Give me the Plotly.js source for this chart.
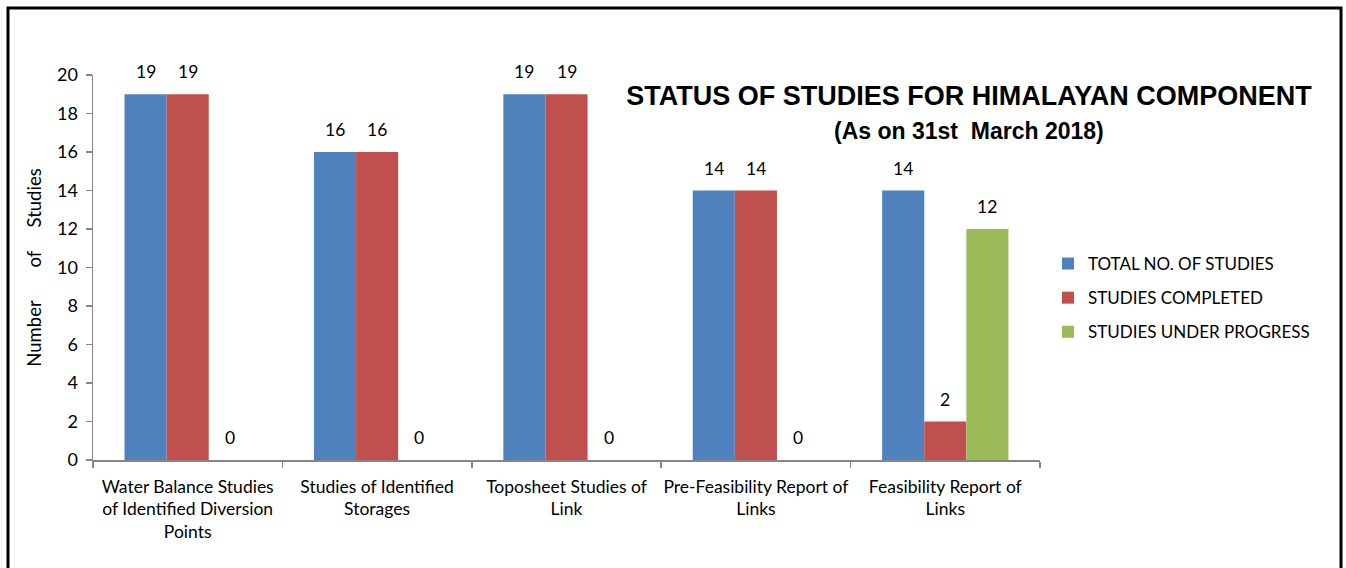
<!DOCTYPE html>
<html>
<head>
<meta charset="utf-8">
<script src="https://cdn.plot.ly/plotly-3.0.1.min.js"></script>
<style>html,body{margin:0;padding:0;background:#fff;}#chart{width:1346px;height:568px;}</style>
</head>
<body>
<div id="chart"></div>
<script>
const categories = [
  "Water Balance Studies<br>of Identified Diversion<br>Points",
  "Studies of Identified<br>Storages",
  "Toposheet Studies of<br>Link",
  "Pre-Feasibility Report of<br>Links",
  "Feasibility Report of<br>Links"
];
const seriesNames = ["TOTAL NO. OF STUDIES", "STUDIES COMPLETED", "STUDIES UNDER PROGRESS"];
const totalStudies = [19, 16, 19, 14, 14];
const studiesCompleted = [19, 16, 19, 14, 2];
const studiesUnderProgress = [0, 0, 0, 0, 12];
const yTicks = [0, 2, 4, 6, 8, 10, 12, 14, 16, 18, 20];

const colors = ["#4F81BD", "#C0504D", "#9BBB59"];
const FONT = "Lato, 'Noto Sans', sans-serif";
const TITLE_FONT = "'Liberation Sans', Arial, sans-serif";
const series = [totalStudies, studiesCompleted, studiesUnderProgress];

const traces = series.map((vals, i) => ({
  type: "bar",
  name: seriesNames[i],
  legendgroup: "g" + i,
  x: categories,
  y: vals,
  marker: {color: colors[i]}
}));

// data labels (values from the series arrays), shifted to each bar of the group
const groupOffsets = [-42.1, 0, 42.1];
const labelAnnotations = [];
series.forEach((vals, i) => {
  vals.forEach((v, j) => {
    labelAnnotations.push({
      x: categories[j], y: v, xref: "x", yref: "y",
      text: String(v), showarrow: false,
      xanchor: "center", yanchor: "bottom",
      xshift: groupOffsets[i], yshift: 10,
      font: {family: FONT, size: 17.5, color: "#000"}
    });
  });
});

const layout = {
  width: 1346, height: 568,
  margin: {l: 93, r: 306, t: 75, b: 108, autoexpand: false},
  paper_bgcolor: "#fff", plot_bgcolor: "#fff",
  barmode: "group",
  bargap: 0.333, bargroupgap: 0,
  font: {family: FONT, size: 17, color: "#000"},
  title: {
    text: "<b>STATUS OF STUDIES FOR HIMALAYAN COMPONENT</b>",
    font: {family: TITLE_FONT, size: 27, color: "#000"},
    xref: "container", x: 969/1346, xanchor: "center",
    yref: "container", y: 1 - 96/568, yanchor: "middle"
  },
  annotations: [{
    text: "<b>(As on 31st&nbsp; March 2018)</b>",
    font: {family: TITLE_FONT, size: 23, color: "#000"},
    xref: "paper", yref: "paper",
    x: (969-93)/947, y: (460-131)/385,
    xanchor: "center", yanchor: "middle",
    showarrow: false
  }].concat(labelAnnotations),
  xaxis: {
    type: "category",
    automargin: false,
    showline: true, linecolor: "#868686", linewidth: 1.5,
    ticks: "outside", tickson: "boundaries", ticklen: 6, tickcolor: "#868686", tickwidth: 1.5,
    tickfont: {family: FONT, size: 17.5, color: "#000"},
    tickangle: 0,
    ticklabelstandoff: 10,
    showgrid: false, zeroline: false
  },
  yaxis: {
    range: [0, 20],
    automargin: false,
    tickvals: yTicks,
    ticktext: yTicks.map(String),
    showline: true, linecolor: "#868686", linewidth: 1.5,
    ticks: "outside", ticklen: 6, tickcolor: "#868686", tickwidth: 1.5,
    tickfont: {family: FONT, size: 18, color: "#000"},
    ticklabelstandoff: 4,
    showgrid: false, zeroline: false,
    title: {text: "Number&nbsp;&nbsp;&nbsp;&nbsp;&nbsp;&nbsp; of&nbsp;&nbsp;&nbsp;&nbsp; Studies", font: {family: FONT, size: 18.5, color: "#000"}, standoff: 10}
  },
  legend: {
    x: (1048-93)/947, xanchor: "left",
    y: (460-298)/385, yanchor: "middle",
    font: {family: FONT, size: 17, color: "#000"},
    traceorder: "grouped", tracegroupgap: 9,
    itemwidth: 30,
    bgcolor: "rgba(0,0,0,0)"
  },
  shapes: [{
    type: "rect", xref: "paper", yref: "paper",
    x0: (8-93)/947, x1: (1341-93)/947,
    y0: (460-600)/385, y1: (460-8)/385,
    line: {color: "#000", width: 3}, fillcolor: "rgba(0,0,0,0)"
  }],
  showlegend: true
};

Plotly.newPlot("chart", traces, layout, {displayModeBar: false, staticPlot: true});
</script>
</body>
</html>
